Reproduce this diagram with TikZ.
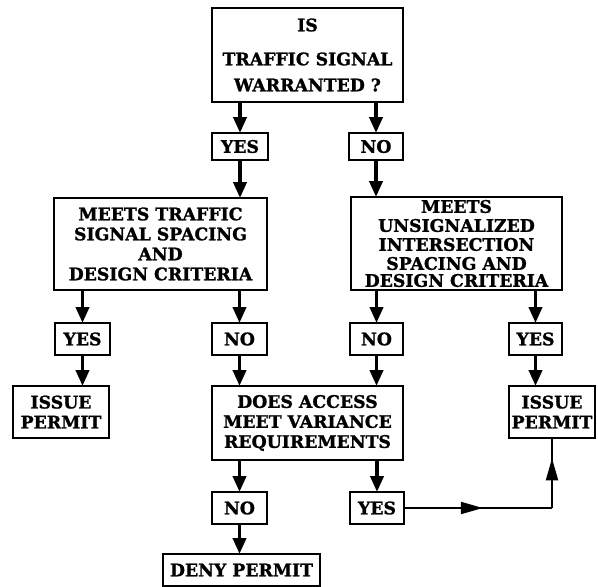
\documentclass[tikz,border=0pt]{standalone}
\usepackage{fontspec}
\setmainfont[BoldFeatures={FakeBold=1.3}]{DejaVu Serif}
\usetikzlibrary{arrows.meta,decorations.markings}

\tikzset{
  box/.style={draw, line width=1.9pt, inner sep=0pt, align=center,
    font=\fontsize{17.3}{20}\selectfont\bfseries},
  tight/.style={font=\fontsize{17.3}{19}\selectfont\bfseries},
  flow/.style={line width=3.8pt, -{Triangle[width=13pt,length=16pt]}, shorten >=-1pt},
  thinflow/.style={line width=1.9pt},
  midtip/.style={thinflow, postaction={decorate}, decoration={markings,
    mark=at position #1 with {\arrow{Triangle[width=12pt,length=22pt]}}}}
}

\begin{document}
\begin{tikzpicture}[x=1pt,y=-1pt]
  \useasboundingbox (0,0) rectangle (598,587);

  % question boxes
  \node[box, minimum width=191pt, minimum height=94pt] (q1) at (307.5,55)
    {IS\\[14pt]TRAFFIC SIGNAL\\[6pt]WARRANTED ?};
  \node[box, minimum width=213pt, minimum height=92pt] (q2) at (160.5,244)
    {MEETS TRAFFIC\\SIGNAL SPACING\\AND\\DESIGN CRITERIA};
  \node[box, tight, minimum width=211pt, minimum height=93pt] (q3) at (456.5,243.5)
    {MEETS\\UNSIGNALIZED\\INTERSECTION\\SPACING AND\\[-2pt]DESIGN CRITERIA};
  \node[box, minimum width=191pt, minimum height=74pt] (q4) at (307.5,423)
    {DOES ACCESS\\MEET VARIANCE\\REQUIREMENTS};

  % answers
  \node[box, minimum width=56pt, minimum height=27pt] (y1) at (240,146.5) {YES};
  \node[box, minimum width=54pt, minimum height=27pt] (n1) at (376,146.5) {NO};
  \node[box, minimum width=55pt, minimum height=32pt] (y2) at (82.5,339) {YES};
  \node[box, minimum width=55pt, minimum height=32pt] (n2) at (239.5,339) {NO};
  \node[box, minimum width=53pt, minimum height=32pt] (n3) at (376.5,339) {NO};
  \node[box, minimum width=53pt, minimum height=32pt] (y3) at (535.5,339) {YES};
  \node[box, minimum width=55pt, minimum height=32pt] (n4) at (239.5,508) {NO};
  \node[box, minimum width=54pt, minimum height=32pt] (y4) at (377,508) {YES};

  % outcomes
  \node[box, minimum width=96pt, minimum height=52pt] (p1) at (61,412)
    {ISSUE\\PERMIT};
  \node[box, minimum width=86pt, minimum height=52pt] (p2) at (552,412)
    {ISSUE\\PERMIT};
  \node[box, minimum width=157pt, minimum height=32pt] (d1) at (241.5,570)
    {DENY PERMIT};

  % connectors
  \draw[flow] (y1.north |- q1.south) -- (y1.north);
  \draw[flow] (n1.north |- q1.south) -- (n1.north);
  \draw[flow] (y1.south) -- (y1.south |- q2.north);
  \draw[flow] (n1.south) -- (n1.south |- q3.north);
  \draw[flow] (y2.north |- q2.south) -- (y2.north);
  \draw[flow] (n2.north |- q2.south) -- (n2.north);
  \draw[flow] (n3.north |- q3.south) -- (n3.north);
  \draw[flow] (y3.north |- q3.south) -- (y3.north);
  \draw[flow] (y2.south) -- (y2.south |- p1.north);
  \draw[flow] (n2.south) -- (n2.south |- q4.north);
  \draw[flow] (n3.south) -- (n3.south |- q4.north);
  \draw[flow] (y3.south) -- (y3.south |- p2.north);
  \draw[flow] (n4.north |- q4.south) -- (n4.north);
  \draw[flow] (y4.north |- q4.south) -- (y4.north);
  \draw[flow] (n4.south) -- (n4.south |- d1.north);

  \coordinate (turn) at (p2.south |- y4.east);
  \draw[midtip=0.53] (y4.east) -- (turn);
  \draw[midtip=0.72] (turn) -- (p2.south);
\end{tikzpicture}
\end{document}
